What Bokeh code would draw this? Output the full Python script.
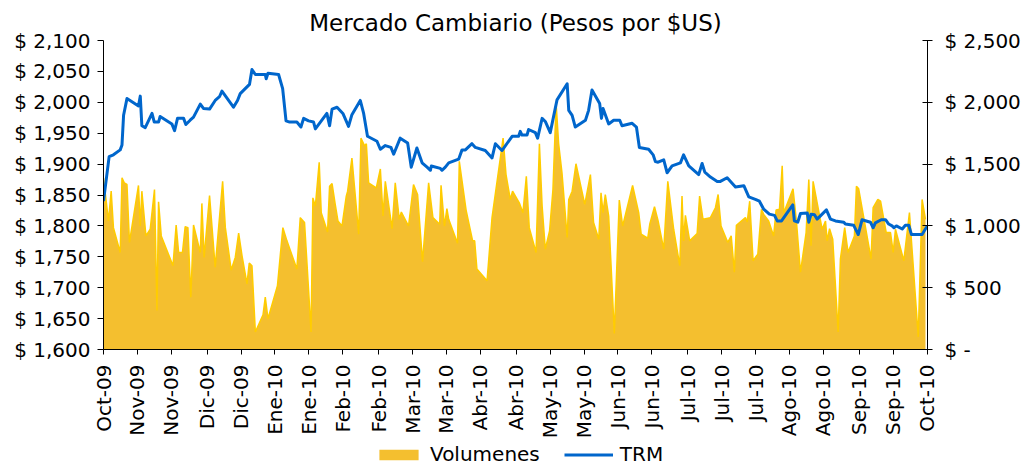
from bokeh.plotting import figure
from bokeh.layouts import column
from bokeh.models import Range1d, LinearAxis, FixedTicker, Legend, LegendItem, ColumnDataSource
from bokeh.embed import file_html
from bokeh.resources import INLINE

# ---------------- data ----------------
x_labels = ["Oct-09", "Nov-09", "Nov-09", "Dic-09", "Dic-09", "Ene-10", "Ene-10",
            "Feb-10", "Feb-10", "Mar-10", "Mar-10", "Abr-10", "Abr-10", "May-10",
            "May-10", "Jun-10", "Jun-10", "Jul-10", "Jul-10", "Jul-10", "Ago-10",
            "Ago-10", "Sep-10", "Sep-10", "Oct-10"]
# tick positions in days since 1-Oct-2009
x_ticks = [0, 15, 30, 46, 61, 76, 91, 106, 122, 137, 152, 167, 183, 198, 213,
           228, 243, 259, 274, 289, 304, 319, 335, 350, 365]

left_ticks = [1600, 1650, 1700, 1750, 1800, 1850, 1900, 1950, 2000, 2050, 2100]
left_labels = ["$ 1,600", "$ 1,650", "$ 1,700", "$ 1,750", "$ 1,800", "$ 1,850",
               "$ 1,900", "$ 1,950", "$ 2,000", "$ 2,050", "$ 2,100"]
right_ticks = [0, 500, 1000, 1500, 2000, 2500]
right_labels = ["$ -", "$ 500", "$ 1,000", "$ 1,500", "$ 2,000", "$ 2,500"]

trm_day = [0, 2.5, 4.4, 7.4, 8.2, 8.9, 10.4, 15.5, 16.3, 17.0, 18.5, 21.5, 22.5, 24.4,
           25.1, 30.3, 31.5, 32.8, 35.5, 36.5, 38.4, 39.9, 42.9, 44.3, 47.0, 49.5, 51.4,
           52.5, 57.6, 59.4, 60.6, 64.7, 65.8, 67.3, 71.7, 72.1, 72.9, 77.6, 79.4, 80.9,
           82.5, 85.7, 87.5, 88.7, 90.9, 93.1, 93.9, 99.0, 100.2, 101.3, 103.5, 106.1,
           108.6, 110.1, 113.8, 115.3, 117.0, 121.2, 122.7, 124.9, 127.4, 128.6, 131.5,
           134.8, 136.4, 138.9, 141.2, 143.4, 144.9, 145.3, 149.3, 150.0, 151.5, 153.0,
           157.4, 158.9, 160.4, 163.3, 164.8, 169.2, 172.2, 173.7, 176.6, 181.1, 184.0,
           184.7, 185.5, 187.7, 188.4, 191.4, 192.4, 194.4, 195.8, 198.0, 201.0, 205.5,
           206.2, 207.7, 209.1, 213.6, 215.0, 216.5, 219.9, 220.7, 221.4, 223.9, 226.1,
           228.8, 229.8, 234.3, 236.2, 237.5, 241.6, 243.6, 244.6, 245.8, 248.3, 249.8,
           252.0, 255.7, 257.1, 259.4, 263.8, 265.3, 266.5, 269.0, 272.0, 273.4, 276.4,
           280.1, 283.8, 286.0, 288.9, 290.7, 292.6, 295.1, 297.4, 298.6, 300.5, 305.5,
           306.2, 307.7, 308.9, 311.9, 312.6, 313.6, 315.1, 316.3, 320.4, 322.2, 324.4,
           328.1, 328.8, 332.5, 334.5, 336.2, 339.9, 341.1, 342.1, 344.7, 346.6, 348.0,
           349.5, 350.3, 351.4, 354.0, 355.4, 356.9, 358.1, 362.8, 365.1]
trm = [1840, 1912, 1915, 1923, 1931, 1979, 2006, 1994, 2010, 1962, 1959, 1982, 1968, 1968,
       1977, 1965, 1954, 1974, 1974, 1964, 1971, 1976, 1997, 1990, 1989, 2003, 2009,
       2018, 1992, 2003, 2014, 2029, 2053, 2045, 2045, 2038, 2047, 2045, 2022, 1970,
       1968, 1968, 1960, 1974, 1970, 1968, 1957, 1982, 1962, 1989, 1992, 1982,
       1961, 1980, 2003, 1982, 1945, 1937, 1924, 1930, 1927, 1916, 1942,
       1934, 1895, 1926, 1902, 1895, 1890, 1897, 1893, 1890, 1895, 1902,
       1908, 1923, 1923, 1933, 1927, 1922, 1910, 1933, 1922, 1945, 1945,
       1953, 1947, 1947, 1956, 1951, 1942, 1974, 1969, 1951, 2004, 2030,
       1987, 1979, 1960, 1971, 1987, 2020, 1998, 1974, 1990, 1965, 1971,
       1971, 1962, 1966, 1960, 1927, 1924, 1915, 1904, 1903, 1907, 1886,
       1897, 1902, 1915, 1897, 1883, 1901, 1887, 1879, 1872, 1872, 1878,
       1863, 1865, 1847, 1843, 1840, 1827, 1819, 1817, 1808, 1808, 1834,
       1808, 1806, 1820, 1821, 1806, 1819, 1818, 1811, 1826, 1811, 1808,
       1806, 1803, 1801, 1786, 1810, 1806, 1797, 1805, 1810, 1810, 1803,
       1800, 1797, 1800, 1795, 1801, 1801, 1786, 1786, 1800]

vol_day = [0, 2.2, 3.4, 4.4, 7.4, 8.2, 9.2, 10.4, 11.5, 15.5, 16.3, 17.0, 18.8, 20.7, 22.6,
           23.7, 24.4, 25.6, 30.8, 32.2, 33.3, 35.0, 36.2, 37.4, 38.7, 39.9, 42.9, 43.6,
           44.6, 47.0, 49.5, 52.8, 54.0, 56.6, 58.4, 59.9, 61.4, 63.6, 64.6, 65.8, 67.3,
           70.7, 71.7, 72.9, 77.1, 79.5, 81.3, 85.7, 87.2, 89.1, 92.0, 92.8, 93.9, 95.6,
           96.5, 99.3, 100.2, 101.3, 102.7, 103.9, 105.7, 107.6, 108.2, 110.1, 113.1,
           114.1, 115.7, 116.5, 117.5, 120.9, 122.7, 123.9, 124.9, 127.9, 129.3, 131.1,
           132.0, 135.2, 137.4, 139.2, 141.4, 144.1, 146.0, 149.0, 149.6, 151.1, 152.2,
           153.0, 156.9, 157.7, 160.7, 163.6, 164.5, 165.5, 170.0, 172.2, 177.1, 178.4,
           180.3, 181.3, 184.4, 185.9, 187.4, 188.7, 191.7, 193.2, 194.4, 195.8, 197.7,
           199.2, 200.6, 201.7, 203.2, 205.5, 206.2, 207.7, 209.4, 213.3, 215.8, 217.2,
           219.5, 220.5, 221.4, 222.4, 223.9, 226.4, 228.6, 230.1, 234.5, 237.2, 238.3,
           241.2, 242.1, 244.2, 245.8, 248.3, 250.1, 252.7, 255.4, 256.4, 257.1, 257.9,
           259.8, 263.1, 264.2, 265.7, 269.0, 271.2, 272.4, 273.7, 276.7, 278.2, 279.6,
           280.5, 284.5, 285.3, 286.4, 287.9, 290.0, 291.6, 292.6, 294.8, 297.0, 298.1,
           299.6, 300.8, 301.5, 305.6, 307.1, 308.9, 311.4, 312.6, 313.6, 314.5, 318.5,
           320.0, 320.7, 321.8, 323.2, 325.6, 326.6, 328.5, 330.0, 332.8, 333.7, 334.7,
           340.2, 341.1, 343.2, 344.4, 346.9, 348.8, 350.0, 351.0, 354.7, 357.2, 361.1,
           362.8, 364.3]
vol = [1389, 1040, 1281, 986, 785, 1389, 1348, 1335, 866, 1327, 999, 1281, 919, 973, 1294,
       316, 1195, 919, 678, 1007, 785, 785, 994, 986, 423, 1007, 785, 1182,
       745, 1246, 665, 1361, 986, 643, 745, 941, 758, 531, 700, 678, 142,
       281, 423, 249, 517, 986, 879, 651, 1067, 1027, 142, 1227, 1160, 1514,
       1107, 951, 1321, 1343, 1174, 1040, 999, 1241, 1281, 1549, 933,
       1710, 1648, 1664, 1348, 1308, 1461, 1080, 1361, 978, 1348, 1053,
       1112, 999, 1335, 1254, 710, 1348, 1067, 1013, 1329, 999, 1139,
       1053, 860, 1522, 1128, 879, 879, 651, 557, 1067, 1710, 1415,
       1214, 1281, 1182, 1107, 1401, 986, 785, 1664, 1160, 812, 959,
       1294, 1991, 1669, 1429, 906, 1214, 1281, 1503, 1174, 1415, 1027,
       892, 1268, 1107, 1254, 1080, 129, 1209, 999, 1327, 1107, 933,
       900, 1013, 1155, 1040, 812, 1361, 973, 678, 1241, 879, 1085,
       879, 938, 1241, 1053, 1067, 1147, 1254, 999, 866, 919, 625,
       1005, 1067, 1032, 1200, 718, 772, 1134, 1093, 1040, 919, 1128,
       1134, 1487, 1107, 1300, 1040, 625, 946, 1375, 839, 1361, 973,
       1040, 879, 978, 892, 142, 732, 986, 785, 919, 1321, 1300,
       732, 1147, 1214, 1200, 946, 946, 785, 973, 718, 1107, 102,
       1214, 1053]

series_names = ["Volumenes", "TRM"]

# ---------------- styles ----------------
FONT = "DejaVu Sans"
AREA_FILL = "#F4BF2F"
AREA_EDGE = "#FFCC00"
TRM_COLOR = "#0066CC"

p = figure(width=1030, height=441, output_backend="svg", toolbar_location=None,
           x_range=Range1d(0, 365.2), y_range=Range1d(1600, 2100),
           min_border_left=103, min_border_right=103, min_border_top=40,
           min_border_bottom=90, background_fill_color="white",
           border_fill_color="white")
p.extra_y_ranges = {"vol": Range1d(0, 2500)}
p.outline_line_color = None
p.xgrid.visible = False
p.ygrid.visible = False

p.title.text = "Mercado Cambiario (Pesos por $US)"
p.title.align = "center"
p.title.text_font = FONT
p.title.text_font_size = "23px"
p.title.text_font_style = "normal"
p.title.text_color = "#000000"
p.title.standoff = 9

src = ColumnDataSource(dict(x=vol_day, y=vol))
trm_src = ColumnDataSource(dict(x=trm_day, y=trm))
p.varea(x="x", y1=0, y2="y", source=src, y_range_name="vol", fill_color=AREA_FILL)
p.line(x="x", y="y", source=src, y_range_name="vol", line_color=AREA_EDGE,
       line_width=1.5)
p.line(x="x", y="y", source=trm_src, line_color=TRM_COLOR, line_width=3,
       line_join="round")

def style_axis(ax):
    ax.axis_line_color = "#000000"
    ax.axis_line_width = 1
    ax.major_tick_line_color = "#000000"
    ax.minor_tick_line_color = None
    ax.major_label_text_font = FONT
    ax.major_label_text_font_size = "20px"
    ax.major_label_text_color = "#000000"

# x axis
xa = p.xaxis[0]
xa.ticker = FixedTicker(ticks=x_ticks)
xa.major_label_overrides = {t: l for t, l in zip(x_ticks, x_labels)}
xa.major_label_orientation = 3.14159265 / 2
xa.major_tick_out = 5
xa.major_tick_in = 0
xa.major_label_standoff = 10
style_axis(xa)

# left axis
ya = p.yaxis[0]
ya.ticker = FixedTicker(ticks=left_ticks)
ya.major_label_overrides = {t: l for t, l in zip(left_ticks, left_labels)}
ya.major_tick_out = 6
ya.major_tick_in = 0
ya.major_label_standoff = 7
style_axis(ya)

# right axis
ra = LinearAxis(y_range_name="vol", ticker=FixedTicker(ticks=right_ticks))
ra.major_label_overrides = {t: l for t, l in zip(right_ticks, right_labels)}
ra.major_tick_out = 5
ra.major_tick_in = 5
ra.major_label_standoff = 12
style_axis(ra)
p.add_layout(ra, "right")

# ---------------- legend strip (same series, ranges outside the data) ----------------
lg = figure(width=1030, height=25, output_backend="svg", toolbar_location=None,
            x_range=Range1d(-20, -10), y_range=Range1d(-20, -10),
            x_axis_type=None, y_axis_type=None, min_border=0,
            background_fill_color="white", border_fill_color="white")
lg.outline_line_color = None
lg.xgrid.visible = False
lg.ygrid.visible = False
r_area = lg.varea(x="x", y1=0, y2="y", source=src, fill_color=AREA_FILL)
r_line = lg.line(x="x", y="y", source=trm_src, line_color=TRM_COLOR, line_width=3)

legend = Legend(items=[LegendItem(label=series_names[0], renderers=[r_area]),
                       LegendItem(label=series_names[1], renderers=[r_line])],
                orientation="horizontal", location=(271, 0))
legend.background_fill_alpha = 0
legend.border_line_alpha = 0
legend.padding = 0
legend.margin = 0
legend.spacing = 24
legend.glyph_width = 49
legend.glyph_height = 13
legend.label_standoff = 7
legend.label_text_font = FONT
legend.label_text_font_size = "20px"
legend.label_text_color = "#000000"
lg.add_layout(legend)

layout = column(p, lg, spacing=0)
open("out.html", "w").write(file_html(layout, INLINE))
